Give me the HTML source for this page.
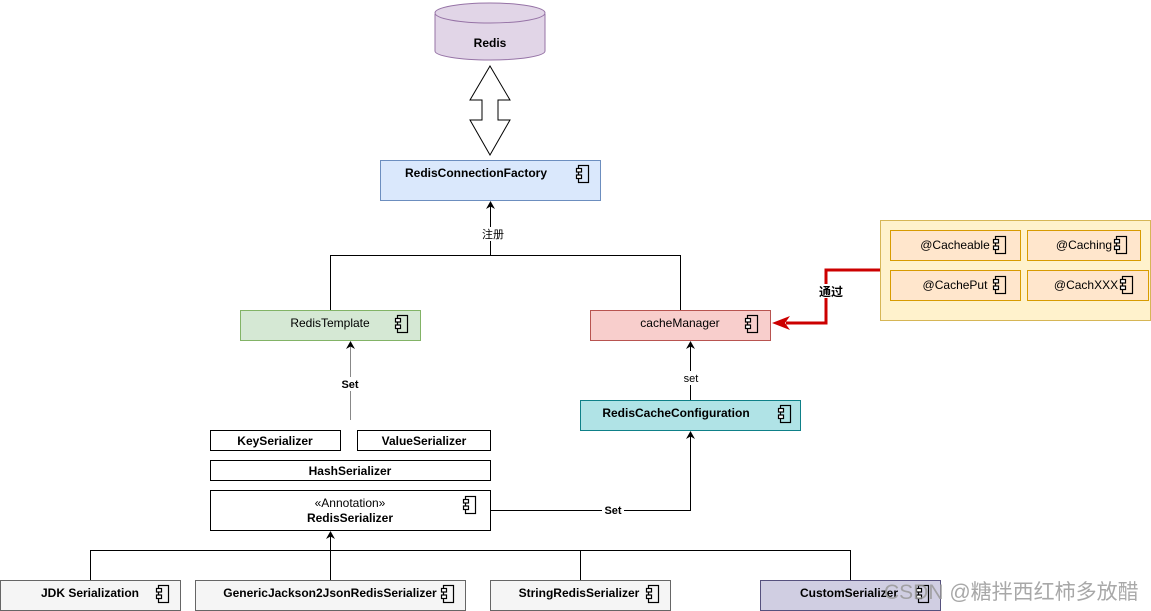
<!DOCTYPE html>
<html><head><meta charset="utf-8"><style>
html,body{margin:0;padding:0;background:#fff;width:1151px;height:611px;overflow:hidden}
text{font-family:"Liberation Sans","Noto Sans CJK SC",sans-serif;font-size:12px;fill:#000}
.b{font-weight:bold}
</style></head><body>
<svg width="1151" height="611" viewBox="0 0 1151 611" xmlns="http://www.w3.org/2000/svg">
<defs>
<g id="ic"><rect x="2.5" y="0.5" width="10" height="17" fill="none" stroke="#000" stroke-width="1.2"/><rect x="0.5" y="3.5" width="5" height="3.5" fill="#fff" stroke="#000" stroke-width="1.2"/><rect x="0.5" y="10" width="5" height="3.5" fill="#fff" stroke="#000" stroke-width="1.2"/></g>
<marker id="ar" markerWidth="10" markerHeight="10" refX="7" refY="5" orient="auto" markerUnits="userSpaceOnUse"><path d="M0,0.5 L8,5 L0,9.5 L2.5,5 z" fill="#000"/></marker>
</defs>
<path d="M435,14 L435,51 A55,9 0 0 0 545,51 L545,14" fill="#e1d5e7" stroke="#9673a6"/>
<ellipse cx="490" cy="13" rx="55" ry="10" fill="#e1d5e7" stroke="#9673a6"/>
<text x="490" y="47" text-anchor="middle" class="b">Redis</text>
<path d="M490,66 L510,100 L498,100 L498,120 L510,120 L490,155 L470,120 L482,120 L482,100 L470,100 Z" fill="#fff" stroke="#000"/>
<rect x="380.5" y="160.5" width="220" height="40" fill="#dae8fc" stroke="#6c8ebf"/>
<text x="476" y="177" text-anchor="middle" class="b">RedisConnectionFactory</text>
<use href="#ic" x="576" y="165"/>
<line x1="490.5" y1="255" x2="490.5" y2="202" stroke="#000" marker-end="url(#ar)"/>
<rect x="480" y="227" width="26" height="14" fill="#fff"/>
<text x="493" y="238" text-anchor="middle" style="font-size:11px">注册</text>
<polyline points="330.5,310 330.5,255.5 680.5,255.5 680.5,310" fill="none" stroke="#000"/>
<rect x="240.5" y="310.5" width="180" height="30" fill="#d5e8d4" stroke="#82b366"/>
<text x="330" y="327" text-anchor="middle">RedisTemplate</text>
<use href="#ic" x="395" y="315"/>
<rect x="590.5" y="310.5" width="180" height="30" fill="#f8cecc" stroke="#b85450"/>
<text x="680" y="327" text-anchor="middle">cacheManager</text>
<use href="#ic" x="745" y="315"/>
<line x1="350.5" y1="420" x2="350.5" y2="342" stroke="#888" marker-end="url(#ar)"/>
<rect x="338" y="377" width="24" height="14" fill="#fff"/>
<text x="350" y="388" text-anchor="middle" style="font-size:11px" class="b">Set</text>
<line x1="690.5" y1="400" x2="690.5" y2="342" stroke="#000" marker-end="url(#ar)"/>
<rect x="680" y="371" width="22" height="14" fill="#fff"/>
<text x="691" y="382" text-anchor="middle" style="font-size:11px">set</text>
<rect x="580.5" y="400.5" width="220" height="30" fill="#b0e3e6" stroke="#0e8088"/>
<text x="676" y="417" text-anchor="middle" class="b">RedisCacheConfiguration</text>
<use href="#ic" x="778" y="405"/>
<rect x="210.5" y="430.5" width="130" height="20" fill="#fff" stroke="#000"/>
<text x="275" y="445" text-anchor="middle" class="b">KeySerializer</text>
<rect x="357.5" y="430.5" width="133" height="20" fill="#fff" stroke="#000"/>
<text x="424" y="445" text-anchor="middle" class="b">ValueSerializer</text>
<rect x="210.5" y="460.5" width="280" height="20" fill="#fff" stroke="#000"/>
<text x="350" y="475" text-anchor="middle" class="b">HashSerializer</text>
<rect x="210.5" y="490.5" width="280" height="40" fill="#fff" stroke="#000"/>
<text x="350" y="507" text-anchor="middle">«Annotation»</text>
<text x="350" y="522" text-anchor="middle" class="b">RedisSerializer</text>
<use href="#ic" x="463" y="496"/>
<polyline points="490,510.5 690.5,510.5 690.5,432" fill="none" stroke="#000" marker-end="url(#ar)"/>
<rect x="602" y="503" width="22" height="14" fill="#fff"/>
<text x="613" y="514" text-anchor="middle" style="font-size:11px" class="b">Set</text>
<line x1="330.5" y1="550" x2="330.5" y2="532" stroke="#000" marker-end="url(#ar)"/>
<polyline points="90.5,580 90.5,550.5 850.5,550.5 850.5,580" fill="none" stroke="#000"/>
<line x1="330.5" y1="550" x2="330.5" y2="580" stroke="#000"/>
<line x1="580.5" y1="550" x2="580.5" y2="580" stroke="#000"/>
<rect x="0.5" y="580.5" width="180" height="30" fill="#f5f5f5" stroke="#666"/>
<text x="90" y="597" text-anchor="middle" class="b">JDK Serialization</text>
<use href="#ic" x="156" y="585"/>
<rect x="195.5" y="580.5" width="270" height="30" fill="#f5f5f5" stroke="#666"/>
<text x="330" y="597" text-anchor="middle" class="b">GenericJackson2JsonRedisSerializer</text>
<use href="#ic" x="441" y="585"/>
<rect x="490.5" y="580.5" width="180" height="30" fill="#f5f5f5" stroke="#666"/>
<text x="579" y="597" text-anchor="middle" class="b">StringRedisSerializer</text>
<use href="#ic" x="646" y="585"/>
<rect x="760.5" y="580.5" width="180" height="30" fill="#d0cee2" stroke="#56517e"/>
<text x="849" y="597" text-anchor="middle" class="b">CustomSerializer</text>
<use href="#ic" x="916" y="585"/>
<rect x="880.5" y="220.5" width="270" height="100" fill="#fff2cc" stroke="#d6b656"/>
<rect x="890.5" y="230.5" width="130" height="30" fill="#ffe6cc" stroke="#d79b00"/>
<text x="955" y="249" text-anchor="middle">@Cacheable</text>
<use href="#ic" x="993" y="236"/>
<rect x="1027.5" y="230.5" width="113" height="30" fill="#ffe6cc" stroke="#d79b00"/>
<text x="1084" y="249" text-anchor="middle">@Caching</text>
<use href="#ic" x="1114" y="236"/>
<rect x="890.5" y="270.5" width="130" height="30" fill="#ffe6cc" stroke="#d79b00"/>
<text x="955" y="289" text-anchor="middle">@CachePut</text>
<use href="#ic" x="993" y="276"/>
<rect x="1027.5" y="270.5" width="121" height="30" fill="#ffe6cc" stroke="#d79b00"/>
<text x="1086" y="289" text-anchor="middle">@CachXXX</text>
<use href="#ic" x="1120" y="276"/>
<polyline points="880,270 826,270 826,323 786,323" fill="none" stroke="#cc0000" stroke-width="3"/>
<path d="M772,323 L790,316 L785,323 L790,330 Z" fill="#cc0000"/>
<rect x="814" y="284" width="34" height="14" fill="#fff"/>
<text x="831" y="296" text-anchor="middle" class="b">通过</text>
<text x="884" y="599" style="font-size:21px;fill:#999;opacity:0.85">CSDN @糖拌西红柿多放醋</text>
</svg>
</body></html>
